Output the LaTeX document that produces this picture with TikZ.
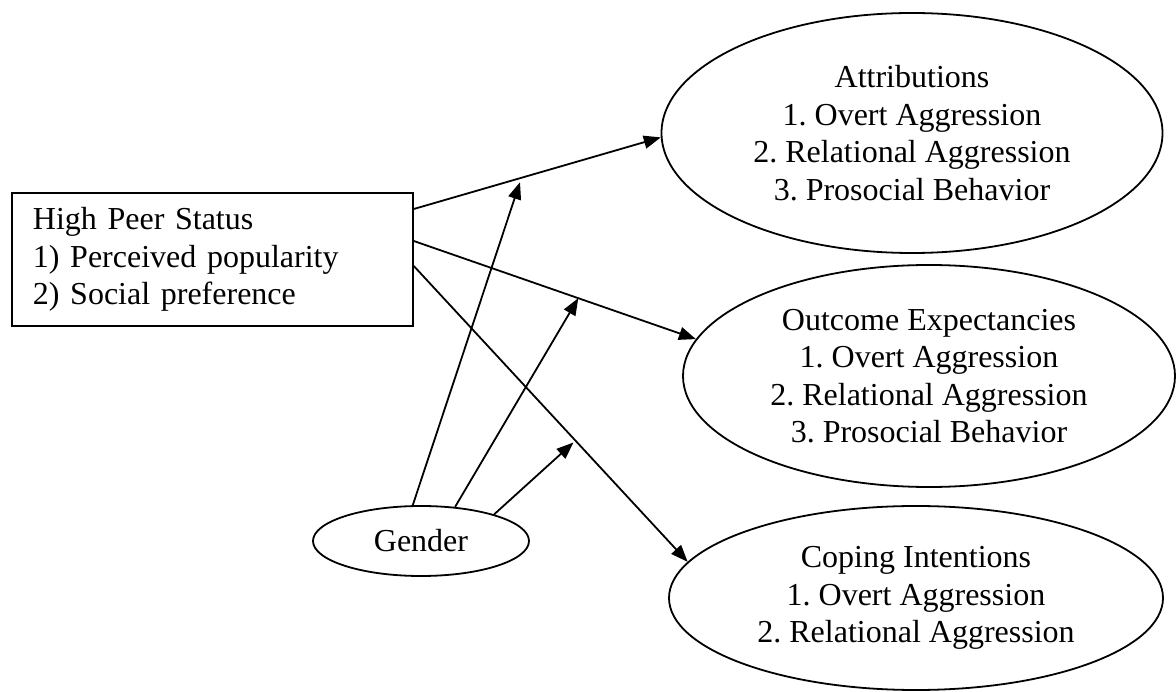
\documentclass[tikz,border=0pt]{standalone}
\usepackage{fontspec}
\setmainfont{Liberation Serif}
\usetikzlibrary{shapes.geometric,arrows.meta,calc}
\begin{document}
\frenchspacing
\begin{tikzpicture}[x=1pt,y=-1pt,
  every node/.style={font=\fontsize{32}{37.5}\selectfont},
  outline/.style={draw, line width=1.8pt},
  construct/.style={outline, ellipse, inner sep=0pt, align=center},
  link/.style={line width=1.8pt, -{Triangle[length=17pt,width=13pt]}}]
\useasboundingbox (0,0) rectangle (1176,692);

% predictor box
\node[outline, rectangle, anchor=north west, minimum width=401pt, minimum height=133pt,
      text width=359pt, inner xsep=21pt, inner ysep=0pt, align=left] (status) at (11,192)
  {High Peer Status\\1) Perceived popularity\\2) Social preference};

% outcome constructs
\node[construct, minimum width=501pt, minimum height=240pt] (attr) at (912,133)
  {Attributions\\1. Overt Aggression\\2. Relational Aggression\\3. Prosocial Behavior};
\node[construct, minimum width=492pt, minimum height=222pt] (outc) at (929,376)
  {Outcome Expectancies\\1. Overt Aggression\\2. Relational Aggression\\3. Prosocial Behavior};
\node[construct, minimum width=494pt, minimum height=184pt] (coping) at (916,598)
  {Coping Intentions\\1. Overt Aggression\\2. Relational Aggression};

% moderator
\node[construct, minimum width=216pt, minimum height=70pt] (gender) at (421,541) {Gender};

% start points on the right side of the box
\coordinate (s1) at ($(status.north east)+(0,17)$);
\coordinate (s2) at ($(status.north east)+(0,49)$);
\coordinate (s3) at ($(status.north east)+(0,74)$);

% main paths
\draw[link] (s1) -- (attr.181);
\draw[link] (s2) -- (outc.171.5);
\draw[link] (s3) -- (coping.171);

% points on the main paths where gender acts
\coordinate (m1) at ($(s1)!0.43!(attr.181)+(0,4)$);
\coordinate (m2) at ($(s2)!0.583!(outc.171.5)$);
\coordinate (m3) at ($(s3)!0.583!(coping.171)+(0,4)$);

% moderation paths
\draw[link] (gender.103) -- (m1);
\draw[link] (gender.45) -- (m2);
\draw[link] (gender.20) -- (m3);
\end{tikzpicture}
\end{document}
